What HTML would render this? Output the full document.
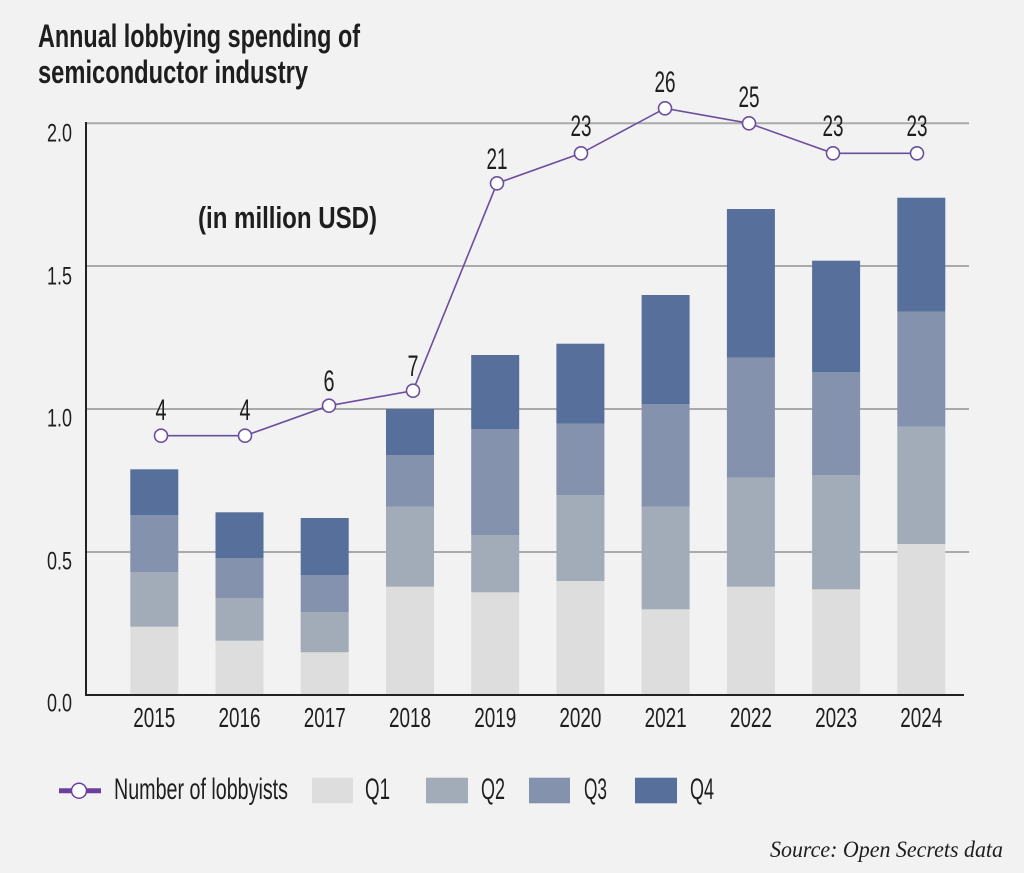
<!DOCTYPE html>
<html>
<head>
<meta charset="utf-8">
<style>
html,body{margin:0;padding:0;background:#f2f2f2;}
svg{display:block;}
</style>
</head>
<body>
<svg width="1024" height="873" viewBox="0 0 1024 873" xmlns="http://www.w3.org/2000/svg" font-family="'Liberation Sans', 'DejaVu Sans', sans-serif">
<rect x="0" y="0" width="1024" height="873" fill="#f2f2f2"/>
<text x="38" y="47" font-size="32" font-weight="bold" fill="#1e1e1e" textLength="322" lengthAdjust="spacingAndGlyphs">Annual lobbying spending of</text>
<text x="38" y="83" font-size="32" font-weight="bold" fill="#1e1e1e" textLength="270" lengthAdjust="spacingAndGlyphs">semiconductor industry</text>
<g stroke="#aaaaaa" stroke-width="2">
<line x1="86" y1="123.3" x2="969" y2="123.3"/>
<line x1="86" y1="266" x2="969" y2="266"/>
<line x1="86" y1="409" x2="969" y2="409"/>
<line x1="86" y1="552" x2="969" y2="552"/>
</g>
<text x="198" y="228" font-size="31" font-weight="bold" fill="#1e1e1e" textLength="179" lengthAdjust="spacingAndGlyphs">(in million USD)</text>
<rect x="130.3" y="626.7" width="48" height="68" fill="#dddddd"/>
<rect x="130.3" y="572.3" width="48" height="54.4" fill="#a1acb8"/>
<rect x="130.3" y="515" width="48" height="57.3" fill="#8492ae"/>
<rect x="130.3" y="469.3" width="48" height="45.7" fill="#566f9b"/>
<rect x="215.5" y="640.7" width="48" height="54" fill="#dddddd"/>
<rect x="215.5" y="598" width="48" height="42.7" fill="#a1acb8"/>
<rect x="215.5" y="558" width="48" height="40" fill="#8492ae"/>
<rect x="215.5" y="512.3" width="48" height="45.7" fill="#566f9b"/>
<rect x="300.7" y="652.3" width="48" height="42.4" fill="#dddddd"/>
<rect x="300.7" y="612.3" width="48" height="40" fill="#a1acb8"/>
<rect x="300.7" y="575" width="48" height="37.3" fill="#8492ae"/>
<rect x="300.7" y="518" width="48" height="57" fill="#566f9b"/>
<rect x="386" y="586.7" width="48" height="108" fill="#dddddd"/>
<rect x="386" y="506.7" width="48" height="80" fill="#a1acb8"/>
<rect x="386" y="455" width="48" height="51.7" fill="#8492ae"/>
<rect x="386" y="409" width="48" height="46" fill="#566f9b"/>
<rect x="471.2" y="592.3" width="48" height="102.4" fill="#dddddd"/>
<rect x="471.2" y="535" width="48" height="57.3" fill="#a1acb8"/>
<rect x="471.2" y="429.3" width="48" height="105.7" fill="#8492ae"/>
<rect x="471.2" y="355" width="48" height="74.3" fill="#566f9b"/>
<rect x="556.4" y="581" width="48" height="113.7" fill="#dddddd"/>
<rect x="556.4" y="495" width="48" height="86" fill="#a1acb8"/>
<rect x="556.4" y="423.7" width="48" height="71.3" fill="#8492ae"/>
<rect x="556.4" y="343.7" width="48" height="80" fill="#566f9b"/>
<rect x="641.6" y="609.3" width="48" height="85.4" fill="#dddddd"/>
<rect x="641.6" y="506.7" width="48" height="102.6" fill="#a1acb8"/>
<rect x="641.6" y="404" width="48" height="102.7" fill="#8492ae"/>
<rect x="641.6" y="295" width="48" height="109" fill="#566f9b"/>
<rect x="726.9" y="586.7" width="48" height="108" fill="#dddddd"/>
<rect x="726.9" y="477.7" width="48" height="109" fill="#a1acb8"/>
<rect x="726.9" y="357.7" width="48" height="120" fill="#8492ae"/>
<rect x="726.9" y="209" width="48" height="148.7" fill="#566f9b"/>
<rect x="812.1" y="589.3" width="48" height="105.4" fill="#dddddd"/>
<rect x="812.1" y="475" width="48" height="114.3" fill="#a1acb8"/>
<rect x="812.1" y="372.3" width="48" height="102.7" fill="#8492ae"/>
<rect x="812.1" y="260.7" width="48" height="111.6" fill="#566f9b"/>
<rect x="897.3" y="544" width="48" height="150.7" fill="#dddddd"/>
<rect x="897.3" y="426.7" width="48" height="117.3" fill="#a1acb8"/>
<rect x="897.3" y="311.7" width="48" height="115" fill="#8492ae"/>
<rect x="897.3" y="197.7" width="48" height="114" fill="#566f9b"/>
<line x1="86" y1="122" x2="86" y2="695.5" stroke="#222" stroke-width="2"/>
<line x1="85" y1="695" x2="964" y2="695" stroke="#222" stroke-width="2"/>
<g font-size="25" fill="#1e1e1e" text-anchor="end">
<text x="72" y="141.5" textLength="25" lengthAdjust="spacingAndGlyphs">2.0</text>
<text x="72" y="284.5" textLength="25" lengthAdjust="spacingAndGlyphs">1.5</text>
<text x="72" y="426.5" textLength="25" lengthAdjust="spacingAndGlyphs">1.0</text>
<text x="72" y="569.5" textLength="25" lengthAdjust="spacingAndGlyphs">0.5</text>
<text x="72" y="711.5" textLength="25" lengthAdjust="spacingAndGlyphs">0.0</text>
</g>
<g font-size="28" fill="#1e1e1e" text-anchor="middle">
<text x="154.3" y="727" textLength="42" lengthAdjust="spacingAndGlyphs">2015</text>
<text x="239.5" y="727" textLength="42" lengthAdjust="spacingAndGlyphs">2016</text>
<text x="324.7" y="727" textLength="42" lengthAdjust="spacingAndGlyphs">2017</text>
<text x="410" y="727" textLength="42" lengthAdjust="spacingAndGlyphs">2018</text>
<text x="495.2" y="727" textLength="42" lengthAdjust="spacingAndGlyphs">2019</text>
<text x="580.4" y="727" textLength="42" lengthAdjust="spacingAndGlyphs">2020</text>
<text x="665.6" y="727" textLength="42" lengthAdjust="spacingAndGlyphs">2021</text>
<text x="750.9" y="727" textLength="42" lengthAdjust="spacingAndGlyphs">2022</text>
<text x="836.1" y="727" textLength="42" lengthAdjust="spacingAndGlyphs">2023</text>
<text x="921.3" y="727" textLength="42" lengthAdjust="spacingAndGlyphs">2024</text>
</g>
<polyline fill="none" stroke="#6b4f9e" stroke-width="1.6" points="161,435.7 245,435.7 329,405.7 413,390.7 497,183.3 581,153.3 665,108.3 749,123.3 833,153.3 917,153.3"/>
<g fill="#ffffff" stroke="#6b4f9e" stroke-width="1.6">
<circle cx="161" cy="435.7" r="6.5"/>
<circle cx="245" cy="435.7" r="6.5"/>
<circle cx="329" cy="405.7" r="6.5"/>
<circle cx="413" cy="390.7" r="6.5"/>
<circle cx="497" cy="183.3" r="6.5"/>
<circle cx="581" cy="153.3" r="6.5"/>
<circle cx="665" cy="108.3" r="6.5"/>
<circle cx="749" cy="123.3" r="6.5"/>
<circle cx="833" cy="153.3" r="6.5"/>
<circle cx="917" cy="153.3" r="6.5"/>
</g>
<g font-size="30" fill="#1e1e1e" text-anchor="middle">
<text x="161" y="420" textLength="11" lengthAdjust="spacingAndGlyphs">4</text>
<text x="245" y="420" textLength="11" lengthAdjust="spacingAndGlyphs">4</text>
<text x="329" y="391" textLength="11" lengthAdjust="spacingAndGlyphs">6</text>
<text x="413" y="376" textLength="11" lengthAdjust="spacingAndGlyphs">7</text>
<text x="497" y="169" textLength="21" lengthAdjust="spacingAndGlyphs">21</text>
<text x="581" y="136" textLength="21" lengthAdjust="spacingAndGlyphs">23</text>
<text x="665" y="92" textLength="21" lengthAdjust="spacingAndGlyphs">26</text>
<text x="749" y="107" textLength="21" lengthAdjust="spacingAndGlyphs">25</text>
<text x="833" y="136" textLength="21" lengthAdjust="spacingAndGlyphs">23</text>
<text x="917" y="136" textLength="21" lengthAdjust="spacingAndGlyphs">23</text>
</g>
<line x1="59" y1="790.7" x2="101" y2="790.7" stroke="#6b3f9e" stroke-width="5"/>
<circle cx="79" cy="790.7" r="7.5" fill="#ffffff" stroke="#6b3f9e" stroke-width="1.5"/>
<g font-size="30" fill="#1e1e1e">
<text x="114" y="799" textLength="174" lengthAdjust="spacingAndGlyphs">Number of lobbyists</text>
<text x="365" y="799" textLength="25" lengthAdjust="spacingAndGlyphs">Q1</text>
<text x="481" y="799" textLength="24" lengthAdjust="spacingAndGlyphs">Q2</text>
<text x="584" y="799" textLength="23" lengthAdjust="spacingAndGlyphs">Q3</text>
<text x="690" y="799" textLength="24" lengthAdjust="spacingAndGlyphs">Q4</text>
</g>
<rect x="312" y="777.7" width="41" height="25.6" fill="#dddddd"/>
<rect x="426" y="777.7" width="42" height="25.6" fill="#a1acb8"/>
<rect x="529" y="777.7" width="41" height="25.6" fill="#8492ae"/>
<rect x="635" y="777.7" width="42" height="25.6" fill="#566f9b"/>
<text x="770" y="857" font-family="'Liberation Serif', 'DejaVu Serif', serif" font-style="italic" font-size="23" fill="#1e1e1e" textLength="233" lengthAdjust="spacingAndGlyphs">Source: Open Secrets data</text>
</svg>
</body>
</html>
